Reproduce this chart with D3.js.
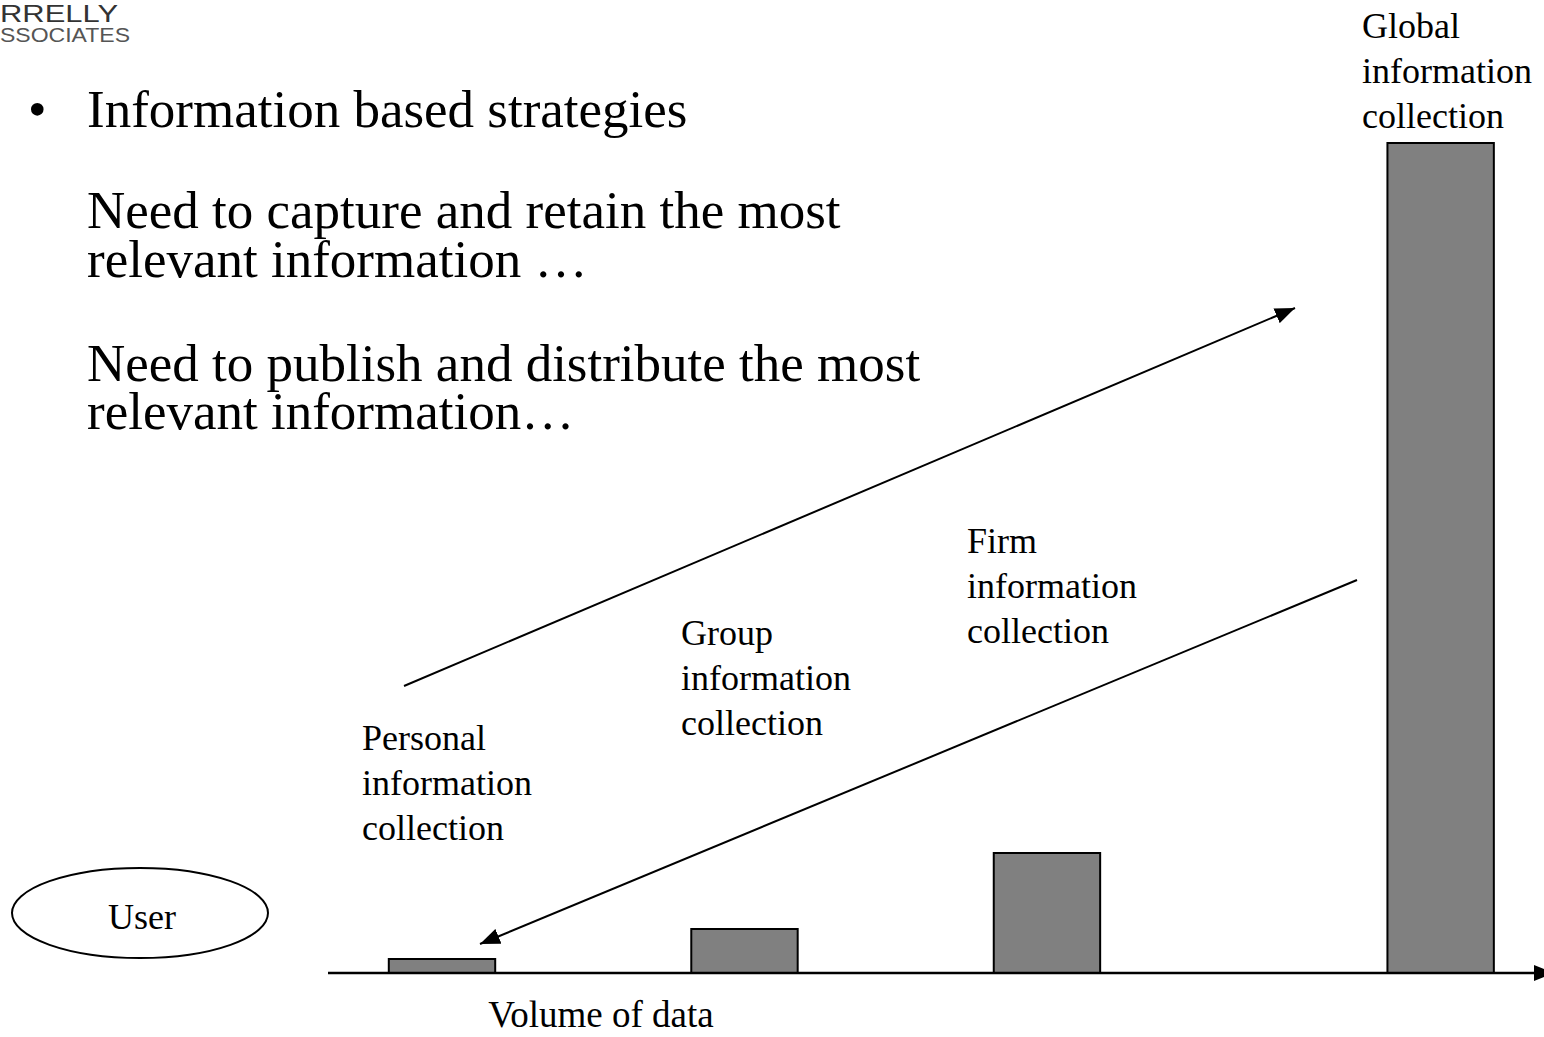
<!DOCTYPE html>
<html>
<head>
<meta charset="utf-8" />
<title>Information based strategies</title>
<script src="https://cdn.jsdelivr.net/npm/d3@7"></script>
<style>
  body { margin: 0; background: #fff; }
  svg { display: block; }
  text { font-family: "Liberation Serif", "Times New Roman", serif; fill: #000; }
</style>
</head>
<body>
<div id="chart"></div>
<script>
// data
var categories = ["Personal", "Group", "Firm", "Global"];
var labelLines = [
  ["Personal", "information", "collection"],
  ["Group", "information", "collection"],
  ["Firm", "information", "collection"],
  ["Global", "information", "collection"]
];
var positions = [0.375, 1.37, 2.365, 3.66];   // along the volume axis
var volumes = [14, 44, 120, 830];
var bulletText = "Information based strategies";
var bodyLines = [
  "Need to capture and retain the most",
  "relevant information \u2026",
  "Need to publish and distribute the most",
  "relevant information\u2026"
];
var axisTitle = "Volume of data";
var userText = "User";
var logoLines = ["RRELLY", "SSOCIATES"];

var w = 1544, h = 1037;
var svg = d3.select("#chart").append("svg")
  .attr("width", w)
  .attr("height", h);

var defs = svg.append("defs");
defs.append("marker")
  .attr("id", "head")
  .attr("markerUnits", "userSpaceOnUse")
  .attr("viewBox", "0 0 20 16")
  .attr("refX", 20).attr("refY", 8)
  .attr("markerWidth", 20).attr("markerHeight", 16)
  .attr("orient", "auto")
  .append("path")
  .attr("d", "M0,0 L20,8 L0,16 Z")
  .attr("fill", "#000");

// scales
var x = d3.scaleLinear().domain([0, 4]).range([328, 1544]);
var y = d3.scaleLinear().domain([0, 830]).range([973, 143]);
var barW = x(0.35) - x(0);

// logo (what is left of it at the page edge)
svg.append("text").attr("x", 0).attr("y", 22)
  .attr("textLength", 118).attr("lengthAdjust", "spacingAndGlyphs")
  .style("font-family", "'Liberation Sans', Arial, sans-serif")
  .style("font-size", "24px")
  .style("fill", "#333")
  .text(logoLines[0]);
svg.append("text").attr("x", 0).attr("y", 42)
  .attr("textLength", 130).attr("lengthAdjust", "spacingAndGlyphs")
  .style("font-family", "'Liberation Sans', Arial, sans-serif")
  .style("font-size", "20px")
  .style("fill", "#555")
  .text(logoLines[1]);

// bullet text
svg.append("text").attr("x", 28).attr("y", 127)
  .style("font-size", "53px").text("\u2022");
svg.append("text").attr("x", 87).attr("y", 127)
  .style("font-size", "53px").text(bulletText);

var bodyY = [228, 277, 381, 429];
svg.selectAll("text.body")
  .data(bodyLines)
  .enter()
  .append("text")
  .attr("class", "body")
  .attr("x", 87)
  .attr("y", function (d, i) { return bodyY[i]; })
  .style("font-size", "53px")
  .text(function (d) { return d; });

// bars
svg.selectAll("rect.bar")
  .data(volumes)
  .enter()
  .append("rect")
  .attr("class", "bar")
  .attr("x", function (d, i) { return x(positions[i]) - barW / 2; })
  .attr("y", function (d) { return y(d); })
  .attr("width", barW)
  .attr("height", function (d) { return y(0) - y(d); })
  .attr("fill", "#808080")
  .attr("stroke", "#000")
  .attr("stroke-width", 2);

// axis line with arrow
svg.append("line")
  .attr("x1", x(0)).attr("y1", y(0))
  .attr("x2", x(4) + 10).attr("y2", y(0))
  .attr("stroke", "#000").attr("stroke-width", 2.5)
  .attr("marker-end", "url(#head)");

svg.append("text")
  .attr("x", 601).attr("y", 1027)
  .attr("text-anchor", "middle")
  .style("font-size", "37px")
  .text(axisTitle);

// category labels
var labelPos = [[362, 750], [681, 645], [967, 553], [1362, 38]];
var groups = svg.selectAll("g.label")
  .data(labelLines)
  .enter()
  .append("g")
  .attr("class", "label");
groups.selectAll("text")
  .data(function (d, i) { return d.map(function (t) { return { t: t, i: i }; }); })
  .enter()
  .append("text")
  .attr("x", function (d) { return labelPos[d.i][0]; })
  .attr("y", function (d, j) { return labelPos[d.i][1] + j * 45; })
  .style("font-size", "36px")
  .text(function (d) { return d.t; });

// trend arrows
var arrows = [
  [[404, 686], [1295, 308]],
  [[1357, 580], [480, 944]]
];
svg.selectAll("line.trend")
  .data(arrows)
  .enter()
  .append("line")
  .attr("class", "trend")
  .attr("x1", function (d) { return d[0][0]; })
  .attr("y1", function (d) { return d[0][1]; })
  .attr("x2", function (d) { return d[1][0]; })
  .attr("y2", function (d) { return d[1][1]; })
  .attr("stroke", "#000")
  .attr("stroke-width", 2)
  .attr("marker-end", "url(#head)");

// user ellipse
svg.append("ellipse")
  .attr("cx", 140).attr("cy", 913)
  .attr("rx", 128).attr("ry", 45)
  .attr("fill", "none")
  .attr("stroke", "#000")
  .attr("stroke-width", 2);
svg.append("text")
  .attr("x", 142).attr("y", 929)
  .attr("text-anchor", "middle")
  .style("font-size", "36px")
  .text(userText);
</script>
</body>
</html>
